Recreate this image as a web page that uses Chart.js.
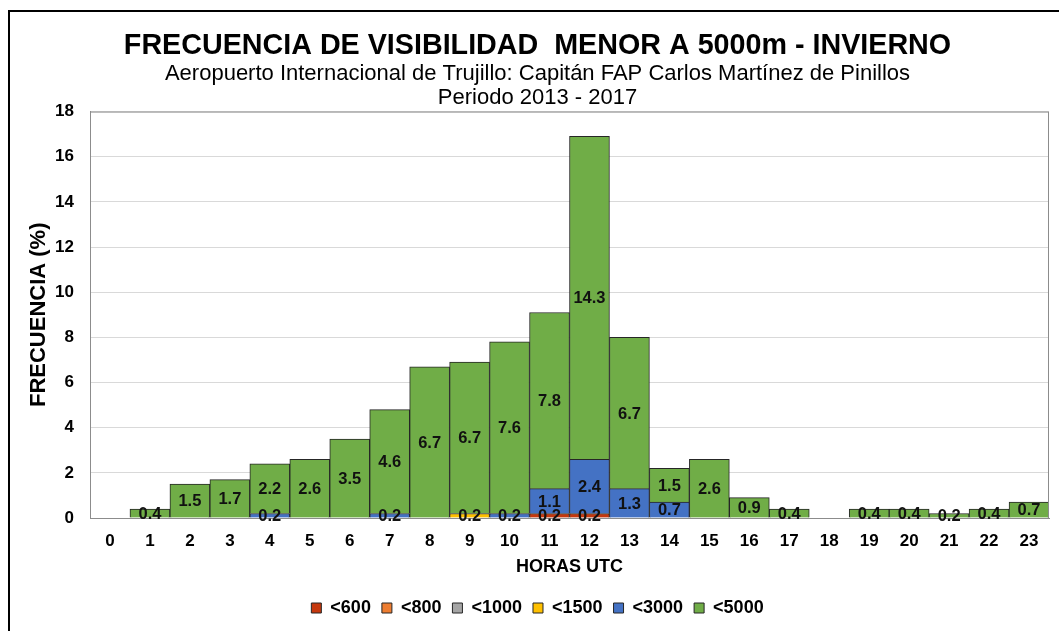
<!DOCTYPE html>
<html lang="es">
<head>
    <meta charset="UTF-8">
    <title>Frecuencia de visibilidad - Invierno</title>
    <script src="https://cdn.jsdelivr.net/npm/chart.js"></script>
    <style>
        html, body { margin: 0; padding: 0; background: #fff; }
        #wrap { width: 1059px; height: 631px; }
    </style>
</head>
<body>
    <div id="wrap"><canvas id="chart" width="1059" height="631"></canvas></div>
    <script>
        const hours = ['0','1','2','3','4','5','6','7','8','9','10','11','12','13','14','15','16','17','18','19','20','21','22','23'];

        const vis600  = [0,0,0,0,0,0,0,0,0,0,0,0.2,0.2,0,0,0,0,0,0,0,0,0,0,0];
        const vis800  = [0,0,0,0,0,0,0,0,0,0,0,0,0,0,0,0,0,0,0,0,0,0,0,0];
        const vis1000 = [0,0,0,0,0,0,0,0,0,0,0,0,0,0,0,0,0,0,0,0,0,0,0,0];
        const vis1500 = [0,0,0,0,0,0,0,0,0,0.2,0,0,0,0,0,0,0,0,0,0,0,0,0,0];
        const vis3000 = [0,0,0,0,0.2,0,0,0.2,0,0,0.2,1.1,2.4,1.3,0.7,0,0,0,0,0,0,0,0,0];
        const vis5000 = [0,0.4,1.5,1.7,2.2,2.6,3.5,4.6,6.7,6.7,7.6,7.8,14.3,6.7,1.5,2.6,0.9,0.4,0,0.4,0.4,0.2,0.4,0.7];

        const font = 'Liberation Sans, Arial, sans-serif';

        // white background + the black frame at left/top
        const framePlugin = {
            id: 'frame',
            beforeDraw(chart) {
                const c = chart.ctx;
                c.save();
                c.fillStyle = '#fff';
                c.fillRect(0, 0, chart.width, chart.height);
                c.strokeStyle = '#000';
                c.lineWidth = 2;
                c.beginPath();
                c.moveTo(9, chart.height);
                c.lineTo(9, 11);
                c.lineTo(chart.width, 11);
                c.stroke();
                c.restore();
            },
            afterDatasetsDraw(chart) {
                const a = chart.chartArea;
                const c = chart.ctx;
                c.save();
                c.strokeStyle = '#8c8c8c';
                c.lineWidth = 1;
                c.strokeRect(a.left + 0.5, a.top + 0.5, a.right - a.left - 1, a.bottom - a.top);
                c.restore();
            }
        };

        // value labels centred in each segment
        const labelPlugin = {
            id: 'segLabels',
            afterDatasetsDraw(chart) {
                const c = chart.ctx;
                c.save();
                c.font = 'bold 16.5px ' + font;
                c.fillStyle = '#111';
                c.textAlign = 'center';
                c.textBaseline = 'middle';
                chart.data.datasets.forEach((ds, i) => {
                    const meta = chart.getDatasetMeta(i);
                    meta.data.forEach((el, j) => {
                        const v = ds.data[j];
                        if (!v) return;
                        c.fillText(v.toFixed(1), el.x, (el.y + el.base) / 2 + 1);
                    });
                });
                c.restore();
            }
        };

        function series(label, data, color) {
            return {
                label: label,
                data: data,
                backgroundColor: color,
                borderColor: '#262626',
                borderWidth: 1,
                barPercentage: 1,
                categoryPercentage: 1
            };
        }

        new Chart(document.getElementById('chart'), {
            type: 'bar',
            data: {
                labels: hours,
                datasets: [
                    series('<600', vis600, '#C5380E'),
                    series('<800', vis800, '#ED7D31'),
                    series('<1000', vis1000, '#A5A5A5'),
                    series('<1500', vis1500, '#FFC000'),
                    series('<3000', vis3000, '#4472C4'),
                    series('<5000', vis5000, '#70AD47')
                ]
            },
            options: {
                responsive: false,
                animation: false,
                devicePixelRatio: 1,
                layout: { padding: { left: 26, right: 10, top: 0, bottom: 4 } },
                plugins: {
                    title: {
                        display: true,
                        text: 'FRECUENCIA DE VISIBILIDAD  MENOR A 5000m - INVIERNO',
                        color: '#000',
                        font: { family: font, size: 28.7, weight: 'bold', lineHeight: 1.1 },
                        padding: { top: 30, bottom: 0 }
                    },
                    subtitle: {
                        display: true,
                        text: ['Aeropuerto Internacional de Trujillo: Capitán FAP Carlos Martínez de Pinillos', 'Periodo 2013 - 2017'],
                        color: '#000',
                        font: { family: font, size: 22, lineHeight: 1.0909 },
                        padding: { top: 0, bottom: 2 }
                    },
                    legend: {
                        position: 'bottom',
                        labels: {
                            color: '#000',
                            boxWidth: 10,
                            boxHeight: 10,
                            padding: 11,
                            font: { family: font, size: 18, weight: 'bold' }
                        }
                    },
                    tooltip: { enabled: false }
                },
                scales: {
                    x: {
                        stacked: true,
                        grid: { display: false },
                        border: { color: '#8c8c8c' },
                        afterFit(scale) { scale.height = 70; },
                        ticks: { color: '#000', padding: 7, font: { family: font, size: 17, weight: 'bold', lineHeight: 1 } },
                        title: { display: true, text: 'HORAS UTC', color: '#000', padding: { top: 0, bottom: 12 }, font: { family: font, size: 18, weight: 'bold', lineHeight: 1 } }
                    },
                    y: {
                        stacked: true,
                        min: 0,
                        max: 18,
                        afterFit(scale) { scale.width = 64; },
                        ticks: { stepSize: 2, color: '#000', padding: 16, font: { family: font, size: 17, weight: 'bold' } },
                        grid: { color: '#d9d9d9', drawTicks: false },
                        border: { color: '#8c8c8c' },
                        title: { display: true, text: 'FRECUENCIA (%)', color: '#000', padding: { top: 0, bottom: 5 }, font: { family: font, size: 22, weight: 'bold' } }
                    }
                }
            },
            plugins: [framePlugin, labelPlugin]
        });
    </script>
</body>
</html>
